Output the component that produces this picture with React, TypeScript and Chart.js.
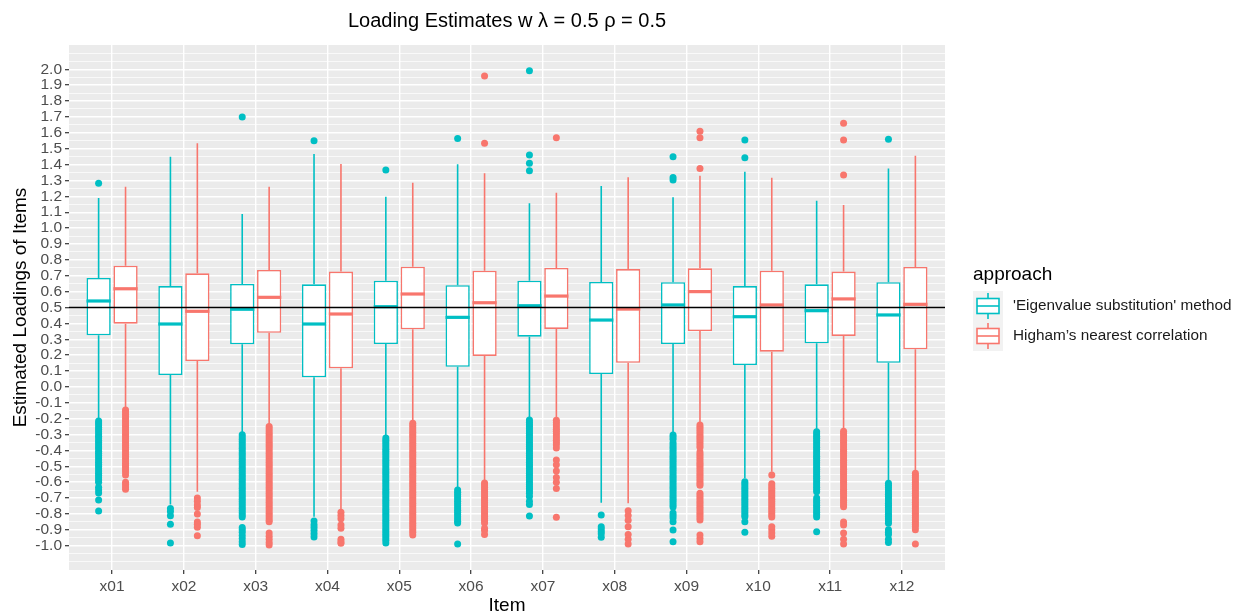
import React, { useEffect, useRef } from "react";
import { Chart, registerables } from "chart.js";

Chart.register(...registerables);

const items = ["x01", "x02", "x03", "x04", "x05", "x06", "x07", "x08", "x09", "x10", "x11", "x12"];
const approaches = ["'Eigenvalue substitution' method", "Higham\u2019s nearest correlation"];
const colors = ["#00BFC4", "#F8766D"];

const titleText = "Loading Estimates w \u03BB = 0.5 \u03C1 = 0.5";
const xTitle = "Item";
const yTitle = "Estimated Loadings of Items";
const legendTitle = "approach";
const referenceLine = 0.5;

const yMajorTicks = [-1.0, -0.9, -0.8, -0.7, -0.6, -0.5, -0.4, -0.3, -0.2, -0.1, 0.0, 0.1, 0.2, 0.3, 0.4, 0.5, 0.6, 0.7, 0.8, 0.9, 1.0, 1.1, 1.2, 1.3, 1.4, 1.5, 1.6, 1.7, 1.8, 1.9, 2.0];

// 'Eigenvalue substitution' method
const eigenLower = [-0.2, -0.74, -0.29, -0.817, -0.313, -0.639, -0.198, -0.729, -0.292, -0.576, -0.271, -0.59];
const eigenQ1 = [0.325, 0.075, 0.268, 0.06, 0.27, 0.127, 0.316, 0.081, 0.27, 0.138, 0.275, 0.152];
const eigenMedian = [0.541, 0.396, 0.489, 0.396, 0.505, 0.438, 0.511, 0.421, 0.516, 0.442, 0.48, 0.453];
const eigenQ3 = [0.686, 0.635, 0.648, 0.646, 0.669, 0.64, 0.669, 0.661, 0.659, 0.635, 0.646, 0.659];
const eigenUpper = [1.19, 1.45, 1.089, 1.467, 1.198, 1.402, 1.156, 1.265, 1.194, 1.355, 1.173, 1.376];
const eigenOutliers = [
  [1.282, -0.215, -0.228, -0.24, -0.255, -0.268, -0.282, -0.296, -0.31, -0.322, -0.337, -0.35, -0.364, -0.378, -0.39, -0.405, -0.418, -0.432, -0.446, -0.46, -0.474, -0.488, -0.502, -0.516, -0.53, -0.544, -0.558, -0.572, -0.586, -0.6, -0.632, -0.65, -0.668, -0.712, -0.782],
  [-0.765, -0.785, -0.811, -0.865, -0.983],
  [1.7, -0.302, -0.315, -0.33, -0.344, -0.358, -0.372, -0.386, -0.4, -0.414, -0.428, -0.442, -0.456, -0.47, -0.484, -0.498, -0.512, -0.526, -0.54, -0.554, -0.568, -0.582, -0.596, -0.61, -0.624, -0.638, -0.652, -0.666, -0.68, -0.694, -0.708, -0.722, -0.736, -0.75, -0.764, -0.778, -0.792, -0.806, -0.82, -0.885, -0.9, -0.915, -0.935, -0.955, -0.975, -0.992],
  [1.55, -0.845, -0.868, -0.885, -0.905, -0.925, -0.945],
  [1.366, -0.322, -0.336, -0.35, -0.364, -0.378, -0.392, -0.406, -0.42, -0.434, -0.448, -0.462, -0.476, -0.49, -0.504, -0.518, -0.532, -0.546, -0.56, -0.574, -0.588, -0.602, -0.616, -0.63, -0.644, -0.658, -0.672, -0.686, -0.7, -0.714, -0.728, -0.742, -0.756, -0.77, -0.784, -0.798, -0.812, -0.826, -0.84, -0.854, -0.868, -0.882, -0.896, -0.91, -0.924, -0.938, -0.952, -0.966, -0.983],
  [1.565, -0.65, -0.664, -0.678, -0.692, -0.706, -0.72, -0.734, -0.748, -0.762, -0.776, -0.79, -0.804, -0.818, -0.832, -0.846, -0.857, -0.99],
  [1.361, 1.408, 1.46, 1.991, -0.208, -0.222, -0.236, -0.25, -0.264, -0.278, -0.292, -0.306, -0.32, -0.334, -0.348, -0.362, -0.376, -0.39, -0.404, -0.418, -0.432, -0.446, -0.46, -0.474, -0.488, -0.502, -0.516, -0.53, -0.544, -0.558, -0.572, -0.586, -0.6, -0.614, -0.628, -0.642, -0.656, -0.67, -0.69, -0.72, -0.74, -0.813],
  [-0.807, -0.88, -0.895, -0.91, -0.925, -0.947],
  [1.303, 1.318, 1.45, -0.303, -0.316, -0.33, -0.352, -0.366, -0.38, -0.394, -0.408, -0.422, -0.436, -0.45, -0.464, -0.478, -0.492, -0.506, -0.52, -0.534, -0.548, -0.562, -0.576, -0.59, -0.604, -0.618, -0.632, -0.646, -0.66, -0.674, -0.688, -0.702, -0.716, -0.73, -0.744, -0.756, -0.794, -0.81, -0.826, -0.849, -0.901, -0.975],
  [1.443, 1.555, -0.597, -0.61, -0.624, -0.638, -0.652, -0.666, -0.68, -0.694, -0.708, -0.722, -0.736, -0.75, -0.764, -0.778, -0.792, -0.806, -0.817, -0.849, -0.916],
  [-0.282, -0.296, -0.31, -0.324, -0.338, -0.352, -0.366, -0.38, -0.394, -0.408, -0.422, -0.436, -0.45, -0.464, -0.478, -0.492, -0.506, -0.52, -0.534, -0.548, -0.562, -0.576, -0.59, -0.604, -0.618, -0.632, -0.646, -0.66, -0.7, -0.715, -0.73, -0.745, -0.76, -0.775, -0.79, -0.805, -0.82, -0.912],
  [1.559, -0.607, -0.62, -0.634, -0.648, -0.662, -0.676, -0.69, -0.704, -0.718, -0.732, -0.746, -0.76, -0.774, -0.788, -0.802, -0.816, -0.83, -0.844, -0.859, -0.9, -0.915, -0.93, -0.96, -0.98],
];

// Higham's nearest correlation
const highamLower = [-0.13, -0.66, -0.24, -0.775, -0.219, -0.597, -0.19, -0.733, -0.225, -0.534, -0.27, -0.523];
const highamQ1 = [0.398, 0.163, 0.341, 0.117, 0.363, 0.195, 0.365, 0.152, 0.352, 0.222, 0.321, 0.237];
const highamMedian = [0.618, 0.476, 0.564, 0.459, 0.585, 0.53, 0.572, 0.49, 0.6, 0.516, 0.554, 0.52];
const highamQ3 = [0.763, 0.715, 0.736, 0.726, 0.757, 0.732, 0.749, 0.742, 0.747, 0.732, 0.726, 0.755];
const highamUpper = [1.261, 1.534, 1.261, 1.404, 1.286, 1.345, 1.223, 1.32, 1.33, 1.317, 1.145, 1.456];
const highamOutliers = [
  [-0.145, -0.158, -0.172, -0.186, -0.2, -0.214, -0.228, -0.242, -0.256, -0.27, -0.284, -0.298, -0.312, -0.326, -0.34, -0.354, -0.368, -0.382, -0.396, -0.41, -0.424, -0.438, -0.452, -0.466, -0.48, -0.494, -0.508, -0.522, -0.536, -0.555, -0.6, -0.615, -0.63, -0.645],
  [-0.7, -0.72, -0.744, -0.76, -0.8, -0.85, -0.865, -0.884, -0.937],
  [-0.25, -0.264, -0.278, -0.292, -0.306, -0.32, -0.334, -0.348, -0.362, -0.376, -0.39, -0.404, -0.418, -0.432, -0.446, -0.46, -0.474, -0.488, -0.502, -0.516, -0.53, -0.544, -0.558, -0.572, -0.586, -0.6, -0.614, -0.628, -0.642, -0.656, -0.67, -0.684, -0.698, -0.712, -0.726, -0.74, -0.754, -0.768, -0.782, -0.796, -0.81, -0.824, -0.838, -0.849, -0.92, -0.94, -0.96, -0.98, -0.995],
  [-0.79, -0.81, -0.83, -0.87, -0.89, -0.96, -0.975, -0.985],
  [-0.229, -0.243, -0.257, -0.271, -0.285, -0.299, -0.313, -0.327, -0.341, -0.355, -0.369, -0.383, -0.397, -0.411, -0.425, -0.439, -0.453, -0.467, -0.481, -0.495, -0.509, -0.523, -0.537, -0.551, -0.565, -0.579, -0.593, -0.607, -0.621, -0.635, -0.649, -0.663, -0.677, -0.691, -0.705, -0.719, -0.733, -0.747, -0.761, -0.775, -0.789, -0.803, -0.817, -0.831, -0.845, -0.859, -0.873, -0.887, -0.901, -0.915, -0.933],
  [1.534, 1.958, -0.605, -0.618, -0.632, -0.646, -0.66, -0.674, -0.688, -0.702, -0.716, -0.73, -0.744, -0.758, -0.772, -0.786, -0.8, -0.814, -0.828, -0.842, -0.857, -0.89, -0.905, -0.93],
  [1.569, -0.21, -0.224, -0.238, -0.252, -0.266, -0.28, -0.294, -0.308, -0.322, -0.336, -0.35, -0.364, -0.385, -0.46, -0.49, -0.53, -0.57, -0.6, -0.64, -0.821],
  [-0.78, -0.81, -0.84, -0.88, -0.93, -0.96, -0.99],
  [1.376, 1.569, 1.61, -0.24, -0.254, -0.268, -0.282, -0.296, -0.31, -0.324, -0.338, -0.352, -0.366, -0.38, -0.41, -0.424, -0.438, -0.452, -0.466, -0.48, -0.494, -0.508, -0.522, -0.536, -0.55, -0.564, -0.578, -0.592, -0.606, -0.62, -0.67, -0.684, -0.698, -0.712, -0.726, -0.74, -0.754, -0.768, -0.782, -0.796, -0.81, -0.824, -0.838, -0.933, -0.955, -0.975],
  [-0.555, -0.61, -0.624, -0.638, -0.652, -0.666, -0.68, -0.694, -0.708, -0.722, -0.736, -0.75, -0.764, -0.778, -0.792, -0.806, -0.82, -0.88, -0.9, -0.92, -0.94],
  [1.334, 1.555, 1.66, -0.28, -0.294, -0.308, -0.322, -0.336, -0.35, -0.364, -0.378, -0.392, -0.406, -0.42, -0.434, -0.448, -0.462, -0.476, -0.49, -0.504, -0.518, -0.532, -0.546, -0.56, -0.574, -0.588, -0.602, -0.616, -0.63, -0.644, -0.658, -0.672, -0.686, -0.7, -0.714, -0.728, -0.742, -0.755, -0.85, -0.87, -0.92, -0.96, -0.99],
  [-0.544, -0.558, -0.572, -0.586, -0.6, -0.614, -0.628, -0.642, -0.656, -0.67, -0.684, -0.698, -0.712, -0.726, -0.74, -0.754, -0.768, -0.782, -0.796, -0.81, -0.824, -0.838, -0.852, -0.866, -0.88, -0.9, -0.99],
];

const FONT = "'Liberation Sans', Arial, Helvetica, sans-serif";
const X_MIN = 0.4;
const X_MAX = items.length + 0.6;
const Y_MIN = -1.153;
const Y_MAX = 2.153;
const DODGE = 0.75;

const boxStats = [
  { lower: eigenLower, q1: eigenQ1, median: eigenMedian, q3: eigenQ3, upper: eigenUpper, outliers: eigenOutliers },
  { lower: highamLower, q1: highamQ1, median: highamMedian, q3: highamQ3, upper: highamUpper, outliers: highamOutliers },
];

function buildYTicks() {
  const ticks: { value: number; isMajor: boolean }[] = [];
  ticks.push({ value: yMajorTicks[0] - 0.1, isMajor: false });
  ticks.push({ value: yMajorTicks[0] - 0.05, isMajor: false });
  yMajorTicks.forEach((v) => {
    ticks.push({ value: v, isMajor: true });
    ticks.push({ value: v + 0.05, isMajor: false });
  });
  ticks.push({ value: yMajorTicks[yMajorTicks.length - 1] + 0.1, isMajor: false });
  return ticks;
}

const ggPlugin = {
  id: "ggParts",
  beforeDraw(chart: any) {
    const { ctx, chartArea: a } = chart;
    ctx.save();
    ctx.fillStyle = "#FFFFFF";
    ctx.fillRect(0, 0, chart.width, chart.height);
    ctx.fillStyle = "#EBEBEB";
    ctx.fillRect(a.left, a.top, a.right - a.left, a.bottom - a.top);
    ctx.restore();
  },
  afterDatasetDraw(chart: any, args: any) {
    const ds = chart.data.datasets[args.index];
    if (!ds.boxStats) return;
    const st = ds.boxStats;
    const ys = chart.scales.y;
    const ctx = chart.ctx;
    ctx.save();
    ctx.strokeStyle = ds.borderColor;
    ctx.lineCap = "butt";
    args.meta.data.forEach((el: any, i: number) => {
      const { x, width } = el.getProps(["x", "width"], true);
      const pq1 = ys.getPixelForValue(st.q1[i]);
      const pq3 = ys.getPixelForValue(st.q3[i]);
      const plo = ys.getPixelForValue(st.lower[i]);
      const phi = ys.getPixelForValue(st.upper[i]);
      const pmed = ys.getPixelForValue(st.median[i]);
      ctx.lineWidth = 1.6;
      ctx.beginPath();
      ctx.moveTo(x, pq3);
      ctx.lineTo(x, phi);
      ctx.moveTo(x, pq1);
      ctx.lineTo(x, plo);
      ctx.stroke();
      ctx.lineWidth = 3.2;
      ctx.beginPath();
      ctx.moveTo(x - width / 2, pmed);
      ctx.lineTo(x + width / 2, pmed);
      ctx.stroke();
    });
    ctx.restore();
  },
  afterDraw(chart: any) {
    const { ctx, chartArea: a } = chart;
    const cx = (a.left + a.right) / 2;
    const cy = (a.top + a.bottom) / 2;
    ctx.save();
    // title
    ctx.fillStyle = "#000000";
    ctx.font = `20px ${FONT}`;
    ctx.textAlign = "center";
    ctx.textBaseline = "alphabetic";
    ctx.fillText(titleText, cx, 27);
    // axis titles
    ctx.font = `19px ${FONT}`;
    ctx.fillText(xTitle, cx, 611);
    ctx.save();
    ctx.translate(26, cy);
    ctx.rotate(-Math.PI / 2);
    ctx.fillText(yTitle, 0, 0);
    ctx.restore();
    // legend
    const lx = 973;
    ctx.textAlign = "left";
    ctx.textBaseline = "middle";
    ctx.font = `19px ${FONT}`;
    ctx.fillText(legendTitle, lx, 275);
    approaches.forEach((name, k) => {
      const top = 291 + k * 30;
      ctx.fillStyle = "#F2F2F2";
      ctx.fillRect(lx, top, 30, 30);
      const mid = lx + 15;
      ctx.strokeStyle = colors[k];
      ctx.lineWidth = 1.6;
      ctx.beginPath();
      ctx.moveTo(mid, top + 2);
      ctx.lineTo(mid, top + 7.5);
      ctx.moveTo(mid, top + 22.5);
      ctx.lineTo(mid, top + 28);
      ctx.stroke();
      ctx.fillStyle = "#FFFFFF";
      ctx.fillRect(lx + 4, top + 7.5, 22, 15);
      ctx.strokeRect(lx + 4, top + 7.5, 22, 15);
      ctx.beginPath();
      ctx.moveTo(lx + 4, top + 15);
      ctx.lineTo(lx + 26, top + 15);
      ctx.stroke();
      ctx.fillStyle = "#1A1A1A";
      ctx.font = `15.3px ${FONT}`;
      ctx.fillText(name, 1013, top + 15);
    });
    ctx.restore();
  },
};

export default function App() {
  const canvasRef = useRef<HTMLCanvasElement | null>(null);

  useEffect(() => {
    const canvas = canvasRef.current;
    if (!canvas) return;
    const yTicks = buildYTicks();
    const tickFont = { family: FONT, size: 15.5 };

    const boxDatasets = boxStats.map((st, k) => ({
      type: "bar" as const,
      label: approaches[k],
      data: items.map((_, i) => ({ x: i + 1, y: [st.q1[i], st.q3[i]] })),
      backgroundColor: "#FFFFFF",
      borderColor: colors[k],
      borderWidth: 1.6,
      borderSkipped: false,
      categoryPercentage: DODGE,
      barPercentage: 0.9,
      grouped: true,
      order: 1,
      boxStats: st,
    }));

    const outlierDatasets = boxStats.map((st, k) => {
      const shift = (k === 0 ? -1 : 1) * DODGE / 4;
      const pts: { x: number; y: number }[] = [];
      st.outliers.forEach((vals, i) => vals.forEach((v) => pts.push({ x: i + 1 + shift, y: v })));
      return {
        type: "scatter" as const,
        label: approaches[k] + " outliers",
        data: pts,
        backgroundColor: colors[k],
        borderWidth: 0,
        pointRadius: 3.5,
        order: 2,
      };
    });

    const chart = new Chart(canvas, {
      type: "bar",
      data: {
        datasets: [
          {
            type: "line",
            label: "reference",
            data: [
              { x: X_MIN, y: referenceLine },
              { x: X_MAX, y: referenceLine },
            ],
            borderColor: "#000000",
            borderWidth: 1.5,
            pointRadius: 0,
            order: 0,
          },
          ...boxDatasets,
          ...outlierDatasets,
        ] as any,
      },
      options: {
        responsive: false,
        animation: false,
        events: [],
        layout: { padding: { left: 0, top: 45, right: 297, bottom: 0 } },
        plugins: {
          legend: { display: false },
          title: { display: false },
          tooltip: { enabled: false },
        },
        scales: {
          x: {
            type: "linear",
            min: X_MIN,
            max: X_MAX,
            offset: false,
            afterBuildTicks: (s: any) => {
              s.ticks = items.map((_, i) => ({ value: i + 1 }));
            },
            afterFit: (s: any) => {
              s.height = 46;
            },
            ticks: {
              autoSkip: false,
              maxRotation: 0,
              padding: 3,
              color: "#4D4D4D",
              font: tickFont,
              callback: (v: any) => items[Math.round(Number(v)) - 1] ?? "",
            },
            grid: {
              offset: false,
              color: "#FFFFFF",
              lineWidth: 1.4,
              tickColor: "#333333",
              tickLength: 4,
              tickWidth: 1.2,
            },
            border: { display: false },
          },
          y: {
            type: "linear",
            min: Y_MIN,
            max: Y_MAX,
            afterBuildTicks: (s: any) => {
              s.ticks = yTicks.map((t) => ({ ...t }));
            },
            afterFit: (s: any) => {
              s.width = 69;
            },
            ticks: {
              autoSkip: false,
              padding: 3,
              color: "#4D4D4D",
              font: tickFont,
              callback: (v: any, idx: number, ticks: any[]) =>
                ticks[idx] && ticks[idx].isMajor ? Number(v).toFixed(1) : "",
            },
            grid: {
              color: "#FFFFFF",
              lineWidth: (c: any) => (c.tick && c.tick.isMajor ? 1.4 : 0.7),
              tickColor: (c: any) => (c.tick && c.tick.isMajor ? "#333333" : "rgba(0,0,0,0)"),
              tickLength: 4,
              tickWidth: 1.2,
            },
            border: { display: false },
          },
        },
      } as any,
      plugins: [ggPlugin],
    });

    return () => chart.destroy();
  }, []);

  return (
    <div style={{ position: "fixed", left: 0, top: 0, width: 1242, height: 616, background: "#FFFFFF" }}>
      <canvas ref={canvasRef} width={1242} height={616} style={{ width: 1242, height: 616, display: "block" }} />
    </div>
  );
}
